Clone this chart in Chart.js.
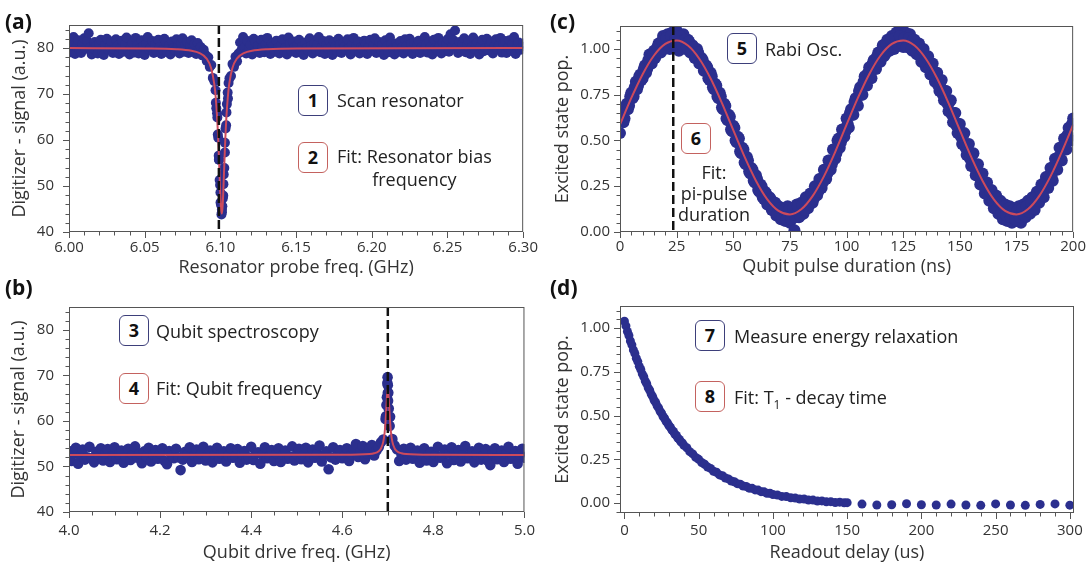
<!DOCTYPE html>
<html>
<head>
<meta charset="utf-8">
<script src="https://cdn.jsdelivr.net/npm/chart.js@4.4.1/dist/chart.umd.min.js"></script>
<style>
  body { margin: 0; background: #fff; font-family: 'Open Sans', sans-serif; color: #222; }
  #page { position: relative; width: 1092px; height: 566px; overflow: hidden; }
  canvas { position: absolute; }
  .tag { position: absolute; font-weight: 700; font-size: 21px; line-height: 21px; color: #111; }
  .box { position: absolute; box-sizing: border-box; width: 30px; height: 31px; border: 1.5px solid; border-radius: 6px;
         font-weight: 700; font-size: 18px; line-height: 28px; text-align: center; color: #111; background: #fff; }
  .blue { border-color: #3d3f7a; }
  .red { border-color: #c4625f; }
  .note { position: absolute; font-size: 18px; line-height: 22px; white-space: nowrap; color: #222; }
  .note.center { text-align: center; }
  sub { font-size: 12px; line-height: 0; }
</style>
</head>
<body>
<div id="page">
  <canvas id="chartA" width="545" height="283" style="left:0;top:0"></canvas>
  <canvas id="chartC" width="547" height="283" style="left:545px;top:0"></canvas>
  <canvas id="chartB" width="545" height="283" style="left:0;top:283px"></canvas>
  <canvas id="chartD" width="547" height="283" style="left:545px;top:283px"></canvas>

  <div class="tag" style="left:5px;top:11px">(a)</div>
  <div class="tag" style="left:5px;top:277px">(b)</div>
  <div class="tag" style="left:550px;top:11px">(c)</div>
  <div class="tag" style="left:550px;top:277px">(d)</div>

  <div class="box blue" style="left:298px;top:85px">1</div>
  <div class="note" style="left:337px;top:89px">Scan resonator</div>
  <div class="box red" style="left:298px;top:142px">2</div>
  <div class="note center" style="left:337px;top:145px;line-height:23px">Fit: Resonator bias<br>frequency</div>

  <div class="box blue" style="left:119px;top:315px">3</div>
  <div class="note" style="left:156px;top:320px">Qubit spectroscopy</div>
  <div class="box red" style="left:119px;top:373px">4</div>
  <div class="note" style="left:156px;top:377px">Fit: Qubit frequency</div>

  <div class="box blue" style="left:727px;top:33px">5</div>
  <div class="note" style="left:765px;top:38px">Rabi Osc.</div>
  <div class="box red" style="left:681px;top:123px">6</div>
  <div class="note center" style="left:714px;top:162px;line-height:21px;transform:translateX(-50%)">Fit:<br>pi-pulse<br>duration</div>

  <div class="box blue" style="left:695px;top:320px">7</div>
  <div class="note" style="left:734px;top:325px">Measure energy relaxation</div>
  <div class="box red" style="left:695px;top:381px">8</div>
  <div class="note" style="left:734px;top:386px">Fit: T<sub>1</sub> - decay time</div>
</div>

<script>
const dotColor = '#2b2f8e';
const fitColor = '#cc4a5c';

// (a) resonator scan, 6.000 .. 6.300 GHz in 1 MHz steps
const resFreqStart = 6.0, resFreqStep = 0.001;
const resSignal = [
  81.2, 79.1, 80.6, 82.4, 78.7, 80.3, 81.7, 79.5, 78.9, 80.8, 82.1, 79.8, 81.5, 83.2, 80.1, 78.6, 79.9, 81.3, 80.4, 78.8,
  80.9, 81.8, 79.3, 78.5, 80.7, 82.0, 79.6, 80.2, 81.4, 78.9, 79.7, 81.9, 80.5, 78.7, 80.0, 81.6, 79.2, 80.8, 82.3, 79.4,
  78.6, 80.4, 81.1, 79.0, 82.2, 80.6, 78.8, 79.9, 81.7, 80.3, 78.5, 81.0, 82.4, 79.7, 80.1, 81.5, 78.9, 80.7, 79.3, 81.8,
  80.2, 78.7, 79.6, 82.0, 81.2, 79.1, 80.5, 78.6, 81.4, 80.0, 79.5, 81.9, 80.3, 78.8, 80.9, 82.1, 79.2, 80.6, 81.3, 78.9,
  80.4, 81.7, 79.4, 80.8, 78.7, 81.1, 79.8, 80.2, 78.4, 79.6,
  78.6, 77.2, 78.0, 75.9, 76.3, 73.5, 72.8, 68.1, 64.9, 55.7, 48.6, 44.3, 50.4, 57.3, 66.0, 69.0, 73.4, 73.9, 76.5, 75.9,
  78.1, 77.1, 78.8,
  81.2, 79.6, 82.4, 80.1, 78.8, 81.5, 79.9,
  80.7, 78.6, 82.0, 81.3, 79.4, 80.5, 78.9, 81.8, 80.2, 79.1, 80.8, 82.2, 79.7, 78.7, 81.0, 80.4, 79.2, 81.6, 80.0, 78.8,
  80.6, 81.9, 79.5, 80.1, 78.6, 82.3, 80.9, 79.3, 81.4, 80.2, 78.9, 80.7, 81.8, 79.6, 80.3, 78.5, 81.2, 80.0, 79.4, 82.1,
  80.5, 78.8, 81.0, 79.7, 80.8, 82.4, 79.1, 80.2, 81.5, 78.7, 80.6, 79.9, 81.7, 80.1, 78.5, 81.3, 80.4, 79.2, 82.0, 80.7,
  78.9, 81.1, 80.3, 79.5, 81.9, 80.0, 78.6, 80.8, 82.2, 79.3, 80.5, 81.4, 78.8, 80.1, 79.7, 81.6, 80.9, 78.7, 80.2, 81.8,
  79.4, 80.6, 82.1, 78.9, 80.0, 81.3, 79.6, 80.7, 78.5, 81.7, 80.3, 79.1, 82.3, 80.8, 79.8, 78.6, 81.0, 80.4, 79.2, 81.5,
  80.1, 78.8, 81.9, 80.5, 79.3, 82.0, 80.9, 78.7, 81.2, 79.9, 80.6, 81.6, 78.9, 80.2, 79.5, 82.4, 80.8, 79.0, 81.4, 80.3,
  78.6, 81.8, 80.0, 79.7, 82.2, 80.5, 78.8, 81.1, 79.4, 80.7, 81.9, 79.2, 83.0, 80.4, 81.7, 83.8, 80.1, 78.9, 81.3, 79.6,
  80.8, 82.1, 79.1, 80.5, 81.6, 78.7, 80.2, 82.3, 79.8, 80.9, 81.2, 78.6, 80.4, 81.8, 79.3, 80.0, 82.0, 79.5, 80.7, 81.4,
  78.8, 80.3, 81.9, 79.7, 80.6, 82.2, 79.0, 80.9, 81.5, 78.9, 80.1, 81.7, 79.4, 80.8, 82.4, 78.7, 80.5, 81.2, 79.6, 80.3, 81.0
];
const resDipFreq = [6.0968, 6.0973, 6.0978, 6.0983, 6.0986, 6.0989, 6.0992, 6.0995, 6.0998, 6.1001, 6.1004, 6.1007,
  6.1010, 6.1013, 6.1016, 6.1019, 6.1022, 6.1026, 6.1030, 6.1034, 6.1038, 6.1043, 6.1048, 6.1054];
const resDipSignal = [70.8, 66.9, 65.8, 61.2, 60.5, 56.6, 55.7, 51.3, 50.2, 46.4, 45.9, 43.8,
  44.9, 45.6, 47.3, 47.9, 52.5, 53.9, 59.4, 62.5, 63.2, 67.8, 70.3, 72.4];
const resFitFreq = [6.0, 6.0509, 6.0709, 6.0809, 6.0859, 6.0909, 6.0939, 6.0959, 6.0969, 6.0979, 6.0984, 6.0989, 6.0994,
  6.0999, 6.1004, 6.1009, 6.1014, 6.1019, 6.1024, 6.1029, 6.1034, 6.1039, 6.1049, 6.1059, 6.1079, 6.1109, 6.1159,
  6.1209, 6.1309, 6.1509, 6.3];
const resFitSignal = [79.98, 79.9, 79.73, 79.4, 78.95, 77.7, 75.6, 72.3, 69.3, 64.6, 61.3, 57.4, 53.0,
  48.6, 45.3, 44.0, 45.3, 48.6, 53.0, 57.4, 61.3, 64.6, 69.3, 72.3, 75.6, 77.7, 78.95,
  79.4, 79.73, 79.9, 79.98];
const resBiasFreq = 6.099;

// (b) qubit spectroscopy, 4.0 .. 5.0 GHz in 5 MHz steps
const qubitFreqStart = 4.0, qubitFreqStep = 0.005;
const qubitSignal = [
  53.4, 51.2, 52.8, 54.1, 50.6, 52.3, 53.7, 51.5, 52.0, 54.3, 51.8, 50.9, 53.2, 52.6, 54.0, 51.3, 52.9, 53.8, 51.0, 52.4,
  54.2, 51.6, 52.7, 53.5, 50.8, 52.1, 53.9, 51.4, 52.5, 54.4, 51.9, 52.8, 50.7, 53.3, 52.2, 54.1, 51.1, 52.6, 53.6, 51.7,
  52.9, 54.0, 51.2, 50.5, 53.4, 52.3, 51.8, 53.9, 52.0, 49.2, 51.5, 53.2, 52.7, 54.2, 51.0, 52.4, 53.7, 51.6, 52.8, 54.3,
  51.3, 52.1, 53.5, 50.9, 52.6, 54.1, 51.7, 52.9, 53.3, 51.1, 52.4, 54.0, 51.9, 52.2, 53.8, 50.8, 52.7, 53.4, 51.5, 52.0,
  54.3, 51.4, 52.8, 53.1, 50.6, 52.5, 54.2, 51.8, 52.3, 53.6, 51.2, 52.9, 54.0, 51.0, 52.6, 53.5, 51.7, 52.1, 54.4, 51.3,
  52.7, 53.9, 51.6, 52.4, 54.1, 50.9, 52.2, 53.7, 51.9, 52.8, 54.6, 51.1, 52.5, 53.3, 49.4, 52.0, 54.2, 51.5, 52.9, 53.6,
  51.8, 52.3, 54.0, 51.2, 52.7, 53.8, 54.9, 52.1, 53.4, 54.5, 51.6, 52.8, 53.9, 54.7, 52.4, 53.5, 54.2, 55.3,
  55.9, 60.4, 66.1, 60.9, 56.0,
  54.6, 53.8, 51.2, 52.6, 53.9, 51.5, 52.2, 54.1,
  51.7, 52.9, 53.5, 50.8, 52.4, 54.0, 51.3, 52.7, 53.2, 51.0, 52.5, 54.3, 51.9, 52.1, 53.7, 50.7, 52.8, 54.2, 51.4, 52.3,
  53.6, 51.1, 52.6, 54.5, 51.8, 52.0, 53.3, 50.9, 52.7, 54.1, 51.5, 52.4, 53.8, 51.2, 50.3, 52.9, 54.0, 51.6, 52.2, 53.5,
  51.0, 52.8, 54.3, 51.7, 52.1, 53.4, 50.6, 52.6, 53.9, 51.9
];
const qubitPeakFreq = [4.696, 4.697, 4.698, 4.699, 4.6995, 4.700, 4.7005, 4.701, 4.702, 4.703, 4.704];
const qubitPeakSignal = [61.0, 63.5, 65.2, 68.3, 69.6, 67.8, 64.4, 66.2, 62.7, 60.8, 58.9];
const qubitFitFreq = [4.0, 4.6, 4.66, 4.67, 4.68, 4.685, 4.69, 4.693, 4.695, 4.697, 4.699, 4.7,
  4.701, 4.703, 4.705, 4.707, 4.71, 4.715, 4.72, 4.73, 4.74, 4.8, 5.0];
const qubitFitSignal = [52.5, 52.54, 52.72, 52.89, 53.35, 53.95, 55.4, 57.4, 59.75, 63.16, 66.44, 67.0,
  66.44, 63.16, 59.75, 57.4, 55.4, 53.95, 53.35, 52.89, 52.72, 52.54, 52.5];
const qubitFreq = 4.70;

// (c) Rabi oscillation: two interleaved scans, 0 .. 200 ns and 0.5 .. 199.5 ns, 1 ns steps
const rabiTimeStart = 0, rabiTimeStart2 = 0.5, rabiTimeStep = 1;
const rabiPop = [
  0.54, 0.63, 0.62, 0.70, 0.69, 0.76, 0.74, 0.82, 0.80, 0.86,
  0.84, 0.91, 0.89, 0.97, 0.92, 0.99, 0.97, 1.03, 0.98, 1.07,
  1.01, 1.08, 1.00, 1.09, 1.03, 1.10, 0.99, 1.06, 1.08, 1.00,
  1.05, 0.98, 1.02, 0.95, 1.00, 0.92, 0.95, 0.88, 0.91, 0.84,
  0.87, 0.79, 0.81, 0.74, 0.76, 0.68, 0.70, 0.62, 0.64, 0.56,
  0.58, 0.50, 0.52, 0.44, 0.46, 0.38, 0.41, 0.33, 0.35, 0.28,
  0.31, 0.23, 0.26, 0.19, 0.22, 0.15, 0.19, 0.12, 0.16, 0.09,
  0.14, 0.07, 0.13, 0.06, 0.14, 0.05, 0.12, 0.01, 0.15, 0.08,
  0.16, 0.10, 0.19, 0.13, 0.21, 0.16, 0.25, 0.20, 0.29, 0.24,
  0.34, 0.29, 0.39, 0.34, 0.45, 0.40, 0.50, 0.46, 0.56, 0.52,
  0.62, 0.57, 0.67, 0.64, 0.73, 0.69, 0.79, 0.75, 0.85, 0.80,
  0.90, 0.84, 0.94, 0.89, 0.98, 0.93, 1.02, 0.97, 1.05, 0.99,
  1.07, 1.00, 1.09, 1.02, 1.11, 1.01, 1.09, 1.02, 1.08, 0.99,
  1.05, 0.97, 1.03, 0.93, 1.00, 0.90, 0.96, 0.86, 0.92, 0.82,
  0.87, 0.77, 0.83, 0.72, 0.77, 0.66, 0.72, 0.60, 0.65, 0.54,
  0.59, 0.48, 0.54, 0.42, 0.48, 0.36, 0.43, 0.31, 0.37, 0.26,
  0.32, 0.21, 0.27, 0.17, 0.23, 0.13, 0.20, 0.10, 0.17, 0.07,
  0.15, 0.06, 0.14, 0.05, 0.13, 0.06, 0.14, 0.05, 0.15, 0.08,
  0.17, 0.10, 0.19, 0.12, 0.22, 0.16, 0.26, 0.19, 0.30, 0.24,
  0.35, 0.28, 0.40, 0.34, 0.46, 0.39, 0.51, 0.45, 0.57, 0.50,
  0.62
];
const rabiPop2 = [
  0.62, 0.60, 0.68, 0.67, 0.74, 0.73, 0.79, 0.78, 0.85, 0.83,
  0.89, 0.87, 0.94, 0.92, 0.97, 0.95, 1.01, 0.98, 1.04, 1.00,
  1.06, 1.02, 1.07, 1.03, 1.06, 1.02, 1.07, 1.02, 1.05, 1.01,
  1.04, 0.99, 1.01, 0.96, 0.98, 0.92, 0.94, 0.88, 0.90, 0.83,
  0.85, 0.78, 0.80, 0.73, 0.74, 0.67, 0.69, 0.61, 0.63, 0.55,
  0.57, 0.49, 0.51, 0.43, 0.45, 0.37, 0.39, 0.32, 0.34, 0.27,
  0.29, 0.22, 0.25, 0.18, 0.21, 0.15, 0.18, 0.12, 0.16, 0.10,
  0.13, 0.08, 0.12, 0.07, 0.12, 0.07, 0.13, 0.08, 0.14, 0.09,
  0.15, 0.12, 0.18, 0.15, 0.21, 0.18, 0.25, 0.22, 0.29, 0.27,
  0.34, 0.32, 0.39, 0.37, 0.45, 0.43, 0.51, 0.49, 0.56, 0.55,
  0.59, 0.65, 0.64, 0.71, 0.70, 0.77, 0.75, 0.82, 0.80, 0.87,
  0.85, 0.92, 0.90, 0.96, 0.93, 0.99, 0.96, 1.03, 0.99, 1.05,
  1.01, 1.06, 1.02, 1.07, 1.03, 1.06, 1.01, 1.06, 1.00, 1.05,
  0.99, 1.02, 0.96, 0.99, 0.93, 0.95, 0.89, 0.91, 0.85, 0.87,
  0.80, 0.82, 0.75, 0.77, 0.70, 0.71, 0.64, 0.65, 0.58, 0.59,
  0.52, 0.53, 0.46, 0.47, 0.40, 0.42, 0.35, 0.36, 0.30, 0.31,
  0.25, 0.26, 0.20, 0.22, 0.17, 0.19, 0.13, 0.16, 0.11, 0.14,
  0.09, 0.13, 0.08, 0.12, 0.07, 0.12, 0.08, 0.13, 0.09, 0.14,
  0.11, 0.16, 0.13, 0.19, 0.17, 0.23, 0.20, 0.27, 0.25, 0.31,
  0.30, 0.36, 0.35, 0.41, 0.40, 0.47, 0.46, 0.53, 0.52, 0.59
];
const rabiFitTime = [0, 5, 10, 15, 20, 25, 30, 35, 40, 45, 50, 55, 60, 65, 70, 75, 80, 85, 90, 95, 100,
  105, 110, 115, 120, 125, 130, 135, 140, 145, 150, 155, 160, 165, 170, 175, 180, 185, 190, 195, 200];
const rabiFitPop = [0.586, 0.732, 0.862, 0.964, 1.027, 1.046, 1.018, 0.946, 0.838, 0.704, 0.556, 0.410, 0.280,
  0.178, 0.115, 0.096, 0.124, 0.196, 0.304, 0.438, 0.586, 0.732, 0.862, 0.964, 1.027, 1.046, 1.018, 0.946,
  0.838, 0.704, 0.556, 0.410, 0.280, 0.178, 0.115, 0.096, 0.124, 0.196, 0.304, 0.438, 0.586];
const piPulse = 23.5;

// (d) energy relaxation
const decayTime = [0, 1, 2, 3, 4, 5, 6, 7, 8, 9, 10, 11, 12, 13, 14, 15, 16, 17, 18, 19, 20, 21, 22, 23, 24, 25,
  26, 27, 28, 29, 30, 31, 32, 33, 34, 35, 36, 37, 38, 39, 40, 42, 44, 46, 48, 50, 52, 54, 56, 58, 60, 62, 64, 66,
  68, 70, 72, 74, 76, 78, 80, 82, 84, 86, 88, 90, 92, 94, 96, 98, 100, 103, 106, 109, 112, 115, 118, 121, 124,
  127, 130, 133, 136, 139, 142, 145, 148, 150, 160, 170, 180, 190, 200, 210, 220, 230, 240, 250, 260, 270, 280,
  290, 300];
const decayPop = [1.040, 1.013, 0.981, 0.958, 0.927, 0.905, 0.876, 0.856, 0.828, 0.809, 0.782, 0.764, 0.739, 0.722,
  0.698, 0.682, 0.659, 0.645, 0.623, 0.609, 0.588, 0.576, 0.556, 0.544, 0.525, 0.514, 0.495, 0.485, 0.468, 0.458,
  0.442, 0.433, 0.417, 0.409, 0.393, 0.386, 0.371, 0.364, 0.350, 0.344, 0.330, 0.316, 0.294, 0.281, 0.261, 0.250,
  0.232, 0.222, 0.206, 0.198, 0.182, 0.176, 0.161, 0.156, 0.143, 0.138, 0.126, 0.122, 0.111, 0.108, 0.097, 0.095,
  0.085, 0.084, 0.075, 0.074, 0.065, 0.064, 0.056, 0.056, 0.049, 0.046, 0.038, 0.037, 0.030, 0.029, 0.023, 0.023,
  0.017, 0.017, 0.011, 0.012, 0.007, 0.008, 0.003, 0.005, 0.001, 0.002, -0.006, -0.011, -0.010, -0.004, -0.010,
  -0.011, -0.006, -0.011, -0.013, -0.005, -0.011, -0.013, -0.008, -0.005, -0.012];

const pts = (xs, ys) => ys.map((y, i) => ({ x: xs[i], y: y }));
const sweep = (start, step, ys) => ys.map((y, i) => ({ x: +(start + i * step).toFixed(4), y: y }));

function dots(data, r) {
  return { type: 'scatter', data: data, pointRadius: r || 5, pointBorderWidth: 0,
    backgroundColor: dotColor, borderColor: dotColor, order: 2 };
}
function fitLine(data) {
  return { type: 'scatter', data: data, showLine: true, pointRadius: 0, borderColor: fitColor,
    borderWidth: 2, cubicInterpolationMode: 'monotone', order: 1 };
}
function marker(x, y0, y1) {
  return { type: 'scatter', data: [{ x: x, y: y1 }, { x: x, y: y0 }], showLine: true, pointRadius: 0,
    borderColor: '#111', borderWidth: 2.5, borderDash: [9, 4], order: 0 };
}

// frame round the plot plus outward major / minor tick marks
const frameTicks = {
  id: 'frameTicks',
  afterDatasetsDraw(chart, args, opts) {
    const { ctx, chartArea: a, scales } = chart;
    ctx.save();
    ctx.strokeStyle = '#555';
    ctx.lineWidth = 1;
    ctx.strokeRect(a.left + 0.5, a.top + 0.5, a.right - a.left - 1, a.bottom - a.top - 1);
    ctx.beginPath();
    ['x', 'y'].forEach(axis => {
      const s = scales[axis];
      const minor = axis === 'x' ? opts.xMinor : opts.yMinor;
      const major = s.options.ticks.stepSize;
      for (let k = Math.ceil(s.min / minor - 1e-6); k * minor <= s.max + 1e-9; k++) {
        const v = k * minor;
        const isMajor = Math.abs(v / major - Math.round(v / major)) < 1e-6;
        const len = isMajor ? 6 : 3.5;
        const p = Math.round(s.getPixelForValue(v)) + 0.5;
        if (axis === 'x') { ctx.moveTo(p, a.bottom); ctx.lineTo(p, a.bottom + len); }
        else { ctx.moveTo(a.left, p); ctx.lineTo(a.left - len, p); }
      }
    });
    ctx.stroke();
    ctx.restore();
  }
};

Chart.defaults.font.family = "'Open Sans', sans-serif";
Chart.defaults.color = '#333';

function makePanel(id, p) {
  const tickFont = { size: 15 };
  const titleFont = { size: 18 };
  return new Chart(document.getElementById(id), {
    type: 'scatter',
    data: { datasets: p.datasets },
    plugins: [frameTicks],
    options: {
      responsive: false,
      animation: false,
      events: [],
      layout: { padding: { left: 0, top: p.top, right: p.right, bottom: 0 } },
      plugins: {
        legend: { display: false },
        tooltip: { enabled: false },
        frameTicks: { xMinor: p.xMinor, yMinor: p.yMinor }
      },
      scales: {
        x: {
          type: 'linear', min: p.xMin, max: p.xMax,
          afterFit: s => { s.height = p.xHeight; },
          grid: { display: false, drawTicks: false }, border: { display: false },
          ticks: { stepSize: p.xStep, padding: p.xPad, font: tickFont, maxRotation: 0, autoSkip: false,
            includeBounds: false, callback: p.xFmt },
          title: { display: true, text: p.xTitle, font: titleFont, padding: { top: 0, bottom: p.xTitlePad } }
        },
        y: {
          type: 'linear', min: p.yMin, max: p.yMax,
          afterFit: s => { s.width = p.yWidth; },
          grid: { display: false, drawTicks: false }, border: { display: false },
          ticks: { stepSize: p.yStep, padding: p.yPad, font: tickFont, autoSkip: false,
            includeBounds: false, callback: p.yFmt },
          title: { display: true, text: p.yTitle, font: titleFont, padding: { top: p.yTitlePad, bottom: 0 } }
        }
      }
    }
  });
}

makePanel('chartA', {
  datasets: [
    marker(resBiasFreq, 40, 85),
    fitLine(pts(resFitFreq, resFitSignal)),
    dots(sweep(resFreqStart, resFreqStep, resSignal).concat(pts(resDipFreq, resDipSignal)))
  ],
  top: 25, right: 20, yWidth: 69, xHeight: 51, xPad: 7, xTitlePad: 4, yPad: 15, yTitlePad: 9,
  xMin: 6.0, xMax: 6.3, xStep: 0.05, xMinor: 0.01, xFmt: v => v.toFixed(2),
  yMin: 40, yMax: 85, yStep: 10, yMinor: 2, yFmt: v => v,
  xTitle: 'Resonator probe freq. (GHz)', yTitle: 'Digitizer - signal (a.u.)'
});

makePanel('chartB', {
  datasets: [
    marker(qubitFreq, 40, 85),
    fitLine(pts(qubitFitFreq, qubitFitSignal)),
    dots(sweep(qubitFreqStart, qubitFreqStep, qubitSignal).concat(pts(qubitPeakFreq, qubitPeakSignal)), 5.3)
  ],
  top: 21, right: 20, yWidth: 69, xHeight: 54, xPad: 10, xTitlePad: 2, yPad: 15, yTitlePad: 8,
  xMin: 4.0, xMax: 5.0, xStep: 0.2, xMinor: 0.05, xFmt: v => v.toFixed(1),
  yMin: 40, yMax: 85, yStep: 10, yMinor: 2, yFmt: v => v,
  xTitle: 'Qubit drive freq. (GHz)', yTitle: 'Digitizer - signal (a.u.)'
});

makePanel('chartC', {
  datasets: [
    marker(piPulse, 0, 1.125),
    fitLine(pts(rabiFitTime, rabiFitPop)),
    dots(sweep(rabiTimeStart, rabiTimeStep, rabiPop).concat(sweep(rabiTimeStart2, rabiTimeStep, rabiPop2)), 6)
  ],
  top: 26, right: 18, yWidth: 75, xHeight: 51, xPad: 6, xTitlePad: 5, yPad: 10, yTitlePad: 7,
  xMin: 0, xMax: 200, xStep: 25, xMinor: 5, xFmt: v => v,
  yMin: 0, yMax: 1.125, yStep: 0.25, yMinor: 0.05, yFmt: v => v.toFixed(2),
  xTitle: 'Qubit pulse duration (ns)', yTitle: 'Excited state pop.'
});

makePanel('chartD', {
  datasets: [
    dots(pts(decayTime, decayPop), 4.5)
  ],
  top: 23, right: 18, yWidth: 75, xHeight: 53, xPad: 9, xTitlePad: 2, yPad: 10, yTitlePad: 7,
  xMin: -3, xMax: 302.8, xStep: 50, xMinor: 10, xFmt: v => v,
  yMin: -0.057, yMax: 1.127, yStep: 0.25, yMinor: 0.05, yFmt: v => v.toFixed(2),
  xTitle: 'Readout delay (us)', yTitle: 'Excited state pop.'
});
</script>
</body>
</html>
